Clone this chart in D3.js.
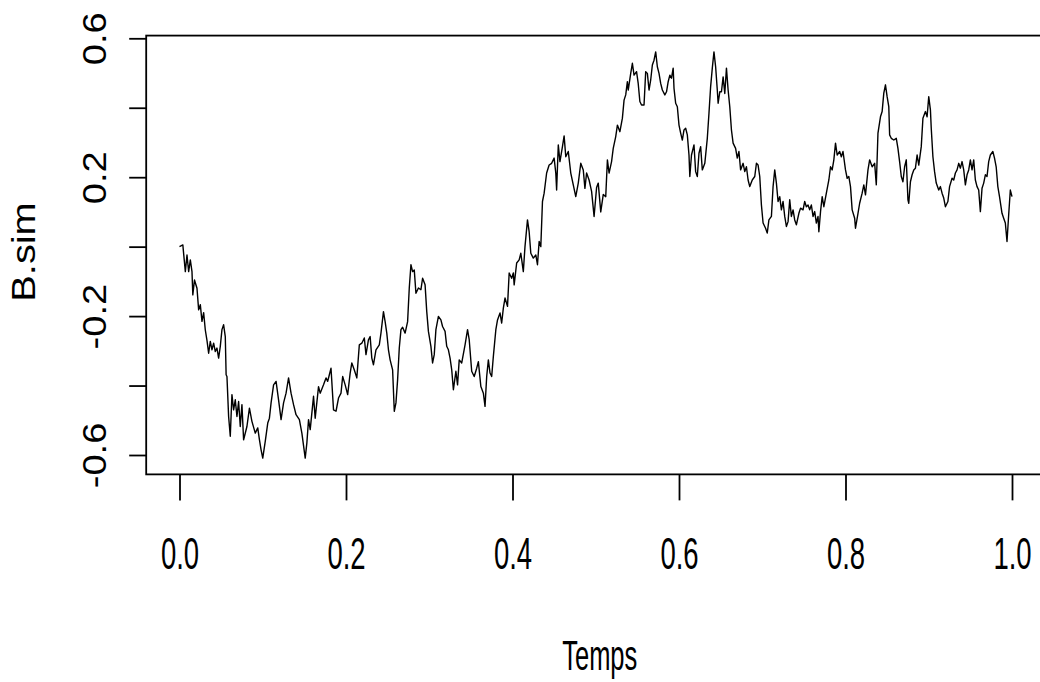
<!DOCTYPE html>
<html>
<head>
<meta charset="utf-8">
<script src="https://cdn.jsdelivr.net/npm/d3@7"></script>
<style>
  html, body { margin: 0; padding: 0; background: #fff; }
  svg { display: block; }
  text { font-family: "Liberation Sans", Arial, Helvetica, sans-serif; fill: #000; }
</style>
</head>
<body>
<svg id="chart" width="1040" height="682"></svg>
<script>
// Simulated Brownian path B.sim over time (Temps)
const temps = [
  0.000,0.004,0.007,0.009,0.011,0.013,0.015,0.016,0.018,0.021,0.023,0.025,0.027,0.029,0.031,0.033,0.035,0.037,0.039,0.041,
  0.043,0.045,0.047,0.049,0.051,0.053,0.055,0.056,0.057,0.059,0.061,0.063,0.065,0.067,0.069,0.071,0.073,0.075,0.077,0.081,
  0.084,0.087,0.091,0.094,0.096,0.098,0.100,0.103,0.106,0.108,0.110,0.113,0.116,0.119,0.122,0.125,0.128,0.131,0.134,0.137,
  0.140,0.144,0.147,0.151,0.153,0.155,0.157,0.161,0.163,0.167,0.169,0.173,0.176,0.178,0.180,0.182,0.185,0.188,0.191,0.194,
  0.196,0.199,0.202,0.205,0.207,0.210,0.213,0.216,0.219,0.222,0.224,0.227,0.229,0.231,0.233,0.236,0.240,0.242,0.245,0.247,
  0.249,0.251,0.253,0.256,0.258,0.260,0.262,0.264,0.266,0.268,0.271,0.274,0.276,0.278,0.280,0.282,0.284,0.287,0.290,0.292,
  0.295,0.297,0.299,0.302,0.304,0.306,0.308,0.311,0.314,0.316,0.319,0.321,0.323,0.325,0.327,0.329,0.332,0.334,0.336,0.339,
  0.343,0.346,0.348,0.351,0.354,0.357,0.359,0.362,0.365,0.367,0.369,0.371,0.373,0.375,0.377,0.380,0.382,0.385,0.387,0.389,
  0.391,0.394,0.396,0.399,0.401,0.402,0.405,0.408,0.410,0.413,0.415,0.418,0.420,0.422,0.425,0.428,0.430,0.432,0.434,0.436,
  0.438,0.441,0.444,0.447,0.450,0.452,0.453,0.455,0.457,0.460,0.462,0.464,0.467,0.470,0.473,0.476,0.479,0.482,0.485,0.487,
  0.489,0.492,0.495,0.498,0.501,0.503,0.506,0.509,0.512,0.514,0.516,0.519,0.521,0.524,0.526,0.529,0.532,0.534,0.536,0.538,
  0.539,0.542,0.544,0.546,0.549,0.551,0.553,0.555,0.558,0.560,0.562,0.564,0.566,0.568,0.570,0.572,0.574,0.576,0.578,0.580,
  0.583,0.585,0.587,0.589,0.591,0.593,0.594,0.596,0.598,0.600,0.602,0.604,0.606,0.608,0.610,0.612,0.613,0.615,0.618,0.620,
  0.622,0.624,0.626,0.628,0.631,0.634,0.636,0.638,0.640,0.642,0.644,0.646,0.647,0.649,0.651,0.653,0.655,0.657,0.659,0.661,
  0.663,0.665,0.668,0.670,0.672,0.674,0.677,0.679,0.681,0.683,0.685,0.688,0.691,0.693,0.695,0.697,0.699,0.701,0.704,0.706,
  0.708,0.711,0.713,0.715,0.717,0.719,0.721,0.723,0.725,0.727,0.729,0.731,0.733,0.735,0.737,0.739,0.741,0.744,0.746,0.749,
  0.751,0.753,0.755,0.757,0.759,0.761,0.763,0.765,0.767,0.768,0.770,0.772,0.774,0.777,0.780,0.782,0.784,0.786,0.788,0.790,
  0.793,0.795,0.797,0.800,0.802,0.804,0.806,0.808,0.811,0.812,0.815,0.817,0.820,0.822,0.824,0.827,0.829,0.832,0.835,0.837,
  0.839,0.842,0.844,0.846,0.848,0.850,0.852,0.853,0.855,0.858,0.861,0.863,0.865,0.867,0.869,0.871,0.873,0.875,0.876,0.878,
  0.880,0.882,0.884,0.886,0.888,0.891,0.893,0.896,0.898,0.900,0.902,0.903,0.905,0.907,0.909,0.912,0.914,0.916,0.918,0.920,
  0.923,0.925,0.928,0.930,0.932,0.934,0.936,0.938,0.940,0.942,0.944,0.946,0.948,0.950,0.952,0.954,0.956,0.958,0.960,0.962,
  0.964,0.966,0.968,0.970,0.972,0.974,0.977,0.979,0.981,0.983,0.985,0.988,0.990,0.992,0.994,0.996,0.998,1.000
];

const bSim = [
  0.000,0.005,-0.072,-0.024,-0.072,-0.038,-0.072,-0.139,-0.096,-0.120,-0.182,-0.167,-0.215,-0.190,-0.240,-0.270,-0.307,-0.273,-0.297,-0.278,
  -0.302,-0.292,-0.321,-0.287,-0.239,-0.225,-0.259,-0.369,-0.374,-0.489,-0.546,-0.426,-0.470,-0.441,-0.489,-0.446,-0.518,-0.455,-0.556,-0.518,
  -0.465,-0.503,-0.537,-0.522,-0.556,-0.585,-0.609,-0.561,-0.508,-0.494,-0.450,-0.398,-0.388,-0.441,-0.498,-0.450,-0.422,-0.378,-0.422,-0.455,
  -0.484,-0.498,-0.537,-0.609,-0.565,-0.498,-0.527,-0.431,-0.494,-0.403,-0.422,-0.398,-0.378,-0.388,-0.369,-0.350,-0.470,-0.474,-0.436,-0.422,
  -0.374,-0.398,-0.426,-0.364,-0.335,-0.355,-0.378,-0.283,-0.278,-0.263,-0.311,-0.268,-0.259,-0.321,-0.340,-0.297,-0.283,-0.249,-0.187,-0.216,
  -0.249,-0.297,-0.326,-0.355,-0.474,-0.450,-0.383,-0.292,-0.239,-0.232,-0.249,-0.216,-0.119,-0.052,-0.072,-0.067,-0.134,-0.119,-0.124,-0.091,
  -0.110,-0.187,-0.244,-0.287,-0.335,-0.311,-0.239,-0.201,-0.211,-0.230,-0.244,-0.287,-0.297,-0.321,-0.355,-0.412,-0.359,-0.398,-0.326,-0.335,
  -0.283,-0.239,-0.268,-0.359,-0.374,-0.350,-0.331,-0.403,-0.422,-0.460,-0.374,-0.326,-0.364,-0.374,-0.316,-0.239,-0.211,-0.191,-0.220,-0.177,
  -0.148,-0.172,-0.076,-0.091,-0.076,-0.110,-0.047,-0.038,-0.019,-0.072,0.000,0.077,0.043,-0.019,-0.033,-0.024,-0.052,0.015,0.000,0.130,
  0.154,0.212,0.235,0.240,0.255,0.212,0.163,0.293,0.245,0.288,0.319,0.259,0.274,0.212,0.178,0.144,0.183,0.240,0.221,0.168,
  0.212,0.192,0.159,0.087,0.170,0.183,0.100,0.150,0.144,0.250,0.212,0.245,0.283,0.317,0.350,0.331,0.370,0.422,0.437,0.475,
  0.451,0.499,0.528,0.494,0.504,0.470,0.418,0.408,0.408,0.504,0.499,0.451,0.480,0.523,0.537,0.561,0.518,0.499,0.470,0.451,
  0.437,0.446,0.475,0.494,0.485,0.514,0.456,0.413,0.403,0.350,0.327,0.307,0.336,0.341,0.322,0.264,0.202,0.264,0.293,0.216,
  0.202,0.269,0.288,0.221,0.240,0.312,0.384,0.461,0.514,0.561,0.518,0.451,0.413,0.446,0.446,0.489,0.441,0.514,0.451,0.403,
  0.336,0.298,0.283,0.255,0.274,0.221,0.240,0.216,0.230,0.192,0.173,0.192,0.202,0.240,0.235,0.202,0.120,0.068,0.053,0.039,
  0.077,0.087,0.173,0.221,0.183,0.130,0.144,0.106,0.130,0.087,0.058,0.072,0.135,0.087,0.106,0.077,0.063,0.096,0.111,0.106,
  0.130,0.115,0.120,0.106,0.120,0.087,0.101,0.068,0.087,0.043,0.101,0.144,0.115,0.154,0.192,0.230,0.221,0.250,0.298,0.264,
  0.274,0.259,0.274,0.221,0.197,0.202,0.173,0.106,0.082,0.053,0.096,0.125,0.154,0.178,0.149,0.221,0.250,0.230,0.240,0.178,
  0.327,0.374,0.389,0.442,0.466,0.432,0.403,0.322,0.312,0.307,0.312,0.283,0.245,0.202,0.187,0.230,0.250,0.135,0.125,0.187,
  0.207,0.221,0.226,0.264,0.235,0.288,0.370,0.389,0.374,0.432,0.394,0.341,0.259,0.216,0.183,0.163,0.173,0.154,0.140,0.115,
  0.130,0.173,0.197,0.192,0.212,0.221,0.240,0.226,0.245,0.221,0.178,0.207,0.221,0.250,0.221,0.250,0.192,0.173,0.163,0.101,
  0.168,0.183,0.207,0.202,0.245,0.264,0.274,0.255,0.230,0.173,0.144,0.096,0.082,0.068,0.015,0.091,0.163,0.144
];

const xTicks = [0.0, 0.2, 0.4, 0.6, 0.8, 1.0];
const yTicks = [-0.6, -0.4, -0.2, 0.0, 0.2, 0.4, 0.6];
const yTickLabels = [-0.6, -0.2, 0.2, 0.6];
const xTitle = "Temps";
const yTitle = "B.sim";

const svg = d3.select("#chart");
svg.append("rect").attr("width", 1040).attr("height", 682).attr("fill", "#fff");

const x = d3.scaleLinear().domain([0, 1]).range([179.5, 1012]);
const y = d3.scaleLinear().domain([-0.6, 0.6]).range([455, 38.3]);

// plot region padded by 4% of the data range on each side
const xExt = d3.extent(temps), yExt = d3.extent(bSim);
const xPad = (xExt[1] - xExt[0]) * 0.04, yPad = (yExt[1] - yExt[0]) * 0.04;
const plotLeft = x(xExt[0] - xPad), plotRight = x(xExt[1] + xPad);
const plotTop = y(yExt[1] + yPad), plotBottom = y(yExt[0] - yPad);

const n = Math.min(temps.length, bSim.length);
const data = d3.range(n).map(i => ({ t: temps[i], b: bSim[i] }));

// path
svg.append("path")
  .datum(data)
  .attr("fill", "none")
  .attr("stroke", "#000")
  .attr("stroke-width", 1.4)
  .attr("stroke-linejoin", "round")
  .attr("d", d3.line().x(d => x(d.t)).y(d => y(d.b)));

// frame
svg.append("rect")
  .attr("x", plotLeft).attr("y", plotTop)
  .attr("width", plotRight - plotLeft).attr("height", plotBottom - plotTop)
  .attr("fill", "none").attr("stroke", "#000").attr("stroke-width", 1.8);

// tick labels with a plain hyphen for negatives
const fmt = d => d.toFixed(1);

// x axis
const gx = svg.append("g")
  .attr("transform", `translate(0,${plotBottom})`)
  .call(d3.axisBottom(x).tickValues(xTicks).tickSize(26).tickFormat(fmt));
gx.select(".domain").remove();
gx.selectAll(".tick line").attr("stroke", "#000").attr("stroke-width", 1.8);
gx.selectAll(".tick text")
  .attr("x", 0).attr("y", 0).attr("dy", null)
  .attr("transform", "translate(0,94.5) scale(1,1.64)")
  .attr("text-anchor", "middle")
  .style("font-size", "27.5px")
  .attr("fill", "#000");

// y axis
const gy = svg.append("g")
  .attr("transform", `translate(${plotLeft},0)`)
  .call(d3.axisLeft(y).tickValues(yTicks).tickSize(17)
    .tickFormat(d => yTickLabels.some(v => Math.abs(v - d) < 1e-9) ? fmt(d) : ""));
gy.select(".domain").remove();
gy.selectAll(".tick line").attr("stroke", "#000").attr("stroke-width", 1.8);
gy.selectAll(".tick text")
  .attr("x", 0).attr("y", 0).attr("dy", null)
  .attr("transform", "translate(-40,0) scale(1,1.12) rotate(-90)")
  .attr("text-anchor", "middle")
  .style("font-size", "34px")
  .attr("fill", "#000");

// axis titles
svg.append("text")
  .attr("transform", `translate(${(plotLeft + plotRight) / 2 + 4},670) scale(1,1.64)`)
  .attr("text-anchor", "middle")
  .style("font-size", "25.5px")
  .text(xTitle);

svg.append("text")
  .attr("transform", `translate(35,${(plotTop + plotBottom) / 2 - 3}) scale(1,1.17) rotate(-90)`)
  .attr("text-anchor", "middle")
  .style("font-size", "34px")
  .text(yTitle);
</script>
</body>
</html>
